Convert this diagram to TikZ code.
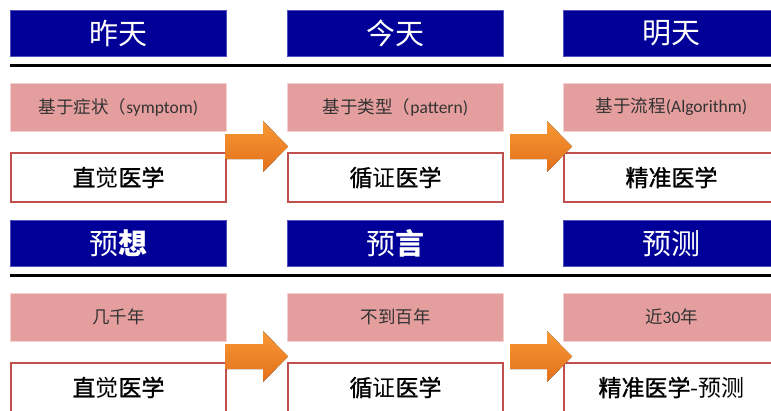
\documentclass[tikz,border=0pt]{standalone}
\usepackage{fontspec}
\setmainfont{Carlito}
\newfontfamily\cjk{Noto Sans CJK SC}
\newfontfamily\cjkm[FakeBold=1.2]{Noto Sans CJK SC}
\usetikzlibrary{calc}
\definecolor{ttlblue}{RGB}{0,0,153}
\definecolor{ttledge}{RGB}{80,80,190}
\definecolor{pinkfill}{RGB}{229,158,158}
\definecolor{pinkedge}{RGB}{245,208,208}
\definecolor{rededge}{RGB}{192,80,77}
\definecolor{orangetop}{RGB}{248,152,52}
\definecolor{orangebot}{RGB}{226,112,28}
\begin{document}
\begin{tikzpicture}[x=1pt,y=-1pt,
  title/.style={draw=ttledge, line width=1.2pt, fill=ttlblue, text=white,
    minimum width=216pt, minimum height=46pt, inner sep=0pt,
    font=\cjk\fontsize{29}{29}\selectfont},
  era/.style={draw=pinkedge, line width=1pt, fill=pinkfill, text=black!80,
    minimum width=216pt, minimum height=48pt, inner sep=0pt,
    font=\fontsize{17.5}{17.5}\selectfont},
  med/.style={draw=rededge, line width=2pt, fill=white, text=black,
    minimum width=215pt, minimum height=49pt, inner sep=0pt,
    font=\cjkm\fontsize{23}{23}\selectfont},
  bigarrow/.style={top color=orangetop, bottom color=orangebot, draw=none},
  rule/.style={line width=3pt}]
\useasboundingbox (0,0) rectangle (771,410);
\clip (0,0) rectangle (771,410);

% ---------- upper half ----------
\node[title] (t1) at (118.5,33.5) {昨天};
\node[title] (t2) at (395.5,33.5) {今天};
\node[title] (t3) at (671.5,33.5) {明天};
\coordinate (l1a) at (10,65);
\coordinate (l1b) at (771,65);
\draw[rule] (l1a) -- (l1b);

\node[era] (e1) at (118.5,107) {{\cjk 基于症状（}symptom)};
\node[era] (e2) at (395.5,107) {{\cjk 基于类型（}pattern)};
\node[era] (e3) at (671.5,107) {{\cjk 基于流程}(Algorithm)};

\node[med] (m1) at (118.5,177.5) {直{\cjk 觉}医学};
\node[med] (m2) at (395.5,177.5) {循{\cjk 证}医学};
\node[med] (m3) at (671.5,177.5) {精准医学};

\fill[bigarrow] (225,134) -- (263,134) -- (263,121) -- (288,146.5) -- (263,172) -- (263,159) -- (225,159) -- cycle;
\fill[bigarrow] (510,134) -- (547,134) -- (547,121) -- (572,146.5) -- (547,172) -- (547,159) -- (510,159) -- cycle;

% ---------- lower half ----------
\node[title] (t4) at (118.5,243.5) {预{\bfseries 想}};
\node[title] (t5) at (395.5,243.5) {预{\bfseries 言}};
\node[title] (t6) at (671.5,243.5) {预测};
\coordinate (l2a) at (10,275);
\coordinate (l2b) at (771,275);
\draw[rule] (l2a) -- (l2b);

\node[era] (e4) at (118.5,317) {{\cjk 几千年}};
\node[era] (e5) at (395.5,317) {{\cjk 不到百年}};
\node[era] (e6) at (671.5,317) {{\cjk 近}30{\cjk 年}};

\node[med] (m4) at (118.5,387.5) {直{\cjk 觉}医学};
\node[med] (m5) at (395.5,387.5) {循{\cjk 证}医学};
\node[med] (m6) at (671.5,387.5) {精准医学{\cjk -预测}};

\fill[bigarrow] (225,344) -- (263,344) -- (263,331) -- (288,356.5) -- (263,382) -- (263,369) -- (225,369) -- cycle;
\fill[bigarrow] (510,344) -- (547,344) -- (547,331) -- (572,356.5) -- (547,382) -- (547,369) -- (510,369) -- cycle;
\end{tikzpicture}
\end{document}
